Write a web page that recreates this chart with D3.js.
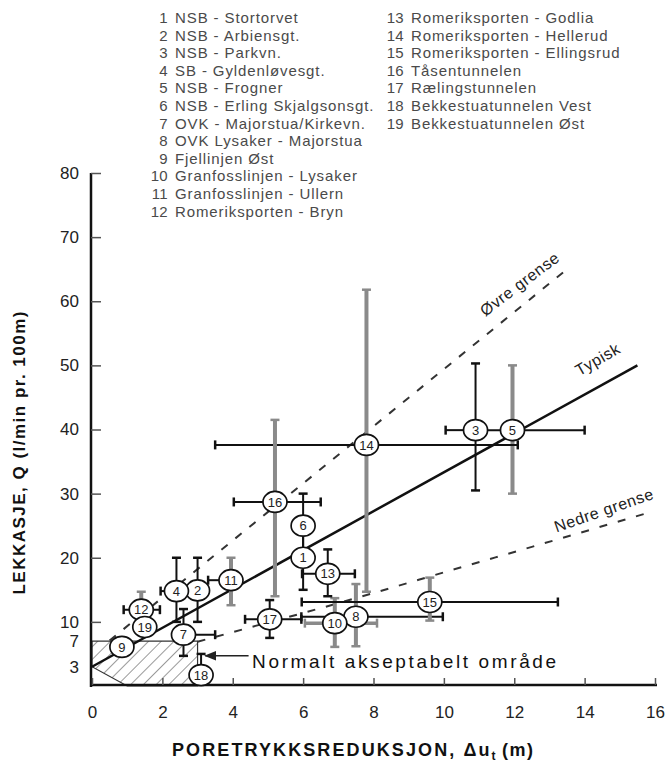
<!DOCTYPE html>
<html><head><meta charset="utf-8">
<script src="https://cdn.jsdelivr.net/npm/d3@7"></script>
<style>
body{margin:0;background:#fff;}
svg{display:block;font-family:"Liberation Sans",Arial,Helvetica,sans-serif;}
</style></head>
<body><svg id="c" width="670" height="773"></svg>
<script>
// ---------- data ----------
const legendIds = [1,2,3,4,5,6,7,8,9,10,11,12,13,14,15,16,17,18,19];
const legendNames = ["NSB - Stortorvet","NSB - Arbiensgt.","NSB - Parkvn.","SB - Gyldenløvesgt.","NSB - Frogner","NSB - Erling Skjalgsonsgt.","OVK - Majorstua/Kirkevn.","OVK Lysaker - Majorstua","Fjellinjen Øst","Granfosslinjen - Lysaker","Granfosslinjen - Ullern","Romeriksporten - Bryn","Romeriksporten - Godlia","Romeriksporten - Hellerud","Romeriksporten - Ellingsrud","Tåsentunnelen","Rælingstunnelen","Bekkestuatunnelen Vest","Bekkestuatunnelen Øst"];

const pointIds = [1,2,3,4,5,6,7,8,9,10,11,12,13,14,15,16,17,18,19];
const pointX   = [6.0,3.0,10.9,2.4,11.95,6.0,2.6,7.5,0.85,6.9,3.95,1.4,6.7,7.8,9.6,5.2,5.05,3.1,1.5];
const pointY   = [20,14.9,39.9,14.8,39.9,25,8,10.8,6.1,9.8,16.5,11.9,17.5,37.6,13.1,28.7,10.4,1.7,9.2];
// vertical range (low, high); null = none
const yLow     = [15,10,30.5,10,30,20,4.7,6.2,null,6.1,12.6,10,14,14.7,10.2,14,7.5,1.7,null];
const yHigh    = [25,20,50.3,20,50,30,12,15.9,null,13.7,20,14.7,21.3,61.8,16.9,41.5,13.4,5.0,null];
// horizontal range (low, high)
const xLow     = [null,null,10.05,1.95,10.9,null,2.6,5.95,null,6.05,3.3,0.9,5.97,3.5,5.96,4.03,4.35,null,null];
const xHigh    = [null,null,10.9,2.4,14.0,null,3.5,9.97,null,8.1,3.95,1.93,7.47,12.1,13.24,6.5,5.95,null,null];
const vGray    = [0,0,0,0,1,0,0,1,0,1,1,1,0,1,1,1,0,0,0];
const hGray    = [0,0,0,0,0,0,0,0,0,1,0,0,0,0,0,0,0,0,0];

const typicalX = [0, 15.5];
const typicalY = [3, 50];
const upperX   = [0.5, 13.5];
const upperY   = [7.1, 65];
const lowerX   = [3.0, 4.4, 6.6, 8.0, 10.3, 12.5, 15.8];
const lowerY   = [6.9, 9.0, 12.3, 14.5, 18.2, 21.7, 27.0];
const hatchX   = [0, 0, 3, 3, 1];
const hatchY   = [3, 7, 7, 0, 0];

const xTicks = [0,2,4,6,8,10,12,14,16];
const yTicks = [10,20,30,40,50,60,70,80];
const yExtraTicks = [3,7];

// ---------- drawing ----------
const svg = d3.select("#c");
const x = d3.scaleLinear().domain([0,16]).range([92,655]);
const y = d3.scaleLinear().domain([0,80]).range([686,173]);

const defs = svg.append("defs");
const pat = defs.append("pattern").attr("id","hatch").attr("patternUnits","userSpaceOnUse")
  .attr("width",9).attr("height",9).attr("patternTransform","rotate(45)");
pat.append("line").attr("x1",0).attr("y1",0).attr("x2",0).attr("y2",9).attr("stroke","#555").attr("stroke-width",1.2);
const mk = defs.append("marker").attr("id","arr").attr("viewBox","0 0 10 10").attr("refX",9).attr("refY",5)
  .attr("markerWidth",8).attr("markerHeight",8).attr("orient","auto-start-reverse");
mk.append("path").attr("d","M0,1 L10,5 L0,9 z").attr("fill","#222");

// legend
const lg = svg.append("g").attr("font-size",15).attr("fill","#4a4a4a").attr("letter-spacing","0.9px");
legendIds.forEach((id,i)=>{
  const col = i<12?0:1, row = i<12?i:i-12;
  const nx = col===0?168:404, tx = col===0?175:411;
  const yy = 23 + row*17.6;
  lg.append("text").attr("x",nx).attr("y",yy).attr("text-anchor","end").attr("letter-spacing","0.3px").text(id);
  lg.append("text").attr("x",tx).attr("y",yy).text(legendNames[i]);
});

// hatch area
const hatchPts = hatchX.map((d,i)=>[x(d),y(hatchY[i])]);
svg.append("path").attr("d",d3.line()(hatchPts)+"Z").attr("fill","url(#hatch)").attr("stroke","#333").attr("stroke-width",1.2);

// axes
const yAx = svg.append("g").attr("transform","translate(91,0)")
  .call(d3.axisLeft(y).tickValues(yTicks).tickSizeInner(-10).tickSizeOuter(0).tickPadding(12));
const yAx2 = svg.append("g").attr("transform","translate(91,0)")
  .call(d3.axisLeft(y).tickValues(yExtraTicks).tickSize(0).tickPadding(12));
yAx2.select(".domain").remove();
const xAx = svg.append("g").attr("transform","translate(0,685)")
  .call(d3.axisBottom(x).tickValues(xTicks).tickSizeInner(-7).tickSizeOuter(0).tickPadding(21));
[yAx,yAx2,xAx].forEach(g=>{
  g.selectAll("text").attr("font-size",17).attr("fill","#222").attr("font-family","Liberation Sans, Arial, sans-serif");
  g.selectAll(".tick line").attr("stroke","#555").attr("stroke-width",1.5);
});
yAx.select(".domain").attr("d",`M0,${y(80)}V${y(0)+1}`).attr("stroke","#111").attr("stroke-width",2.5);
xAx.select(".domain").attr("d",`M91,0H${x(16)+2}`).attr("stroke","#111").attr("stroke-width",2.5);

// bound lines
const line = d3.line();
svg.append("path").attr("d",line(upperX.map((d,i)=>[x(d),y(upperY[i])]))).attr("fill","none")
  .attr("stroke","#333").attr("stroke-width",2).attr("stroke-dasharray","8,10");
svg.append("path").attr("d",d3.line().curve(d3.curveMonotoneX)(lowerX.map((d,i)=>[x(d),y(lowerY[i])]))).attr("fill","none")
  .attr("stroke","#333").attr("stroke-width",2).attr("stroke-dasharray","8,11");
svg.append("path").attr("d",line(typicalX.map((d,i)=>[x(d),y(typicalY[i])]))).attr("fill","none")
  .attr("stroke","#111").attr("stroke-width",2.5);

// error bars
const eb = svg.append("g");
const cap = 4.5;
pointIds.forEach((id,i)=>{
  if(xLow[i]!==null){
    const c = hGray[i]?"#8a8a8a":"#111", w = hGray[i]?3.5:2;
    const yy = y(pointY[i]);
    eb.append("line").attr("x1",x(xLow[i])).attr("x2",x(xHigh[i])).attr("y1",yy).attr("y2",yy).attr("stroke",c).attr("stroke-width",w);
    [xLow[i],xHigh[i]].forEach(v=>eb.append("line").attr("x1",x(v)).attr("x2",x(v)).attr("y1",yy-cap).attr("y2",yy+cap).attr("stroke",c).attr("stroke-width",2.5));
  }
  if(yLow[i]!==null){
    const c = vGray[i]?"#8a8a8a":"#111", w = vGray[i]?4:2;
    const xx = x(pointX[i]);
    eb.append("line").attr("x1",xx).attr("x2",xx).attr("y1",y(yLow[i])).attr("y2",y(yHigh[i])).attr("stroke",c).attr("stroke-width",w);
    [yLow[i],yHigh[i]].forEach(v=>eb.append("line").attr("x1",xx-cap).attr("x2",xx+cap).attr("y1",y(v)).attr("y2",y(v)).attr("stroke",c).attr("stroke-width",2.5));
  }
});

// markers
const mg = svg.append("g");
pointIds.forEach((id,i)=>{
  const cx = x(pointX[i]), cy = y(pointY[i]);
  mg.append("ellipse").attr("cx",cx).attr("cy",cy).attr("rx",12).attr("ry",10.5)
    .attr("fill","#fff").attr("stroke","#111").attr("stroke-width",1.7);
  mg.append("text").attr("x",cx).attr("y",cy).attr("dy","0.36em").attr("text-anchor","middle")
    .attr("font-size",13).attr("fill","#222").text(id);
});

// line labels
function rotLabel(txt, dx, dy, ang, fs){
  svg.append("text").attr("transform",`translate(${x(dx)},${y(dy)}) rotate(${ang})`)
    .attr("text-anchor","middle").attr("font-size",fs).attr("fill","#222").attr("letter-spacing","0.6px").text(txt);
}
rotLabel("Øvre grense", 12.25, 62.0, -37, 16);
rotLabel("Typisk", 14.45, 50.2, -30, 16);
rotLabel("Nedre grense", 14.6, 26.6, -19, 16);

// acceptable area annotation
svg.append("line").attr("x1",x(4.45)).attr("y1",y(4.7)).attr("x2",x(3.22)).attr("y2",y(4.7))
  .attr("stroke","#222").attr("stroke-width",1.5).attr("marker-end","url(#arr)");
svg.append("text").attr("x",x(4.55)).attr("y",y(3.9)).attr("dy","0.36em").attr("font-size",19)
  .attr("fill","#111").attr("textLength",304).attr("lengthAdjust","spacing").text("Normalt akseptabelt område");

// axis titles
svg.append("text").attr("transform","translate(25,453) rotate(-90)").attr("text-anchor","middle")
  .attr("font-size",17).attr("font-weight","bold").attr("fill","#111")
  .attr("textLength",283).attr("lengthAdjust","spacing").text("LEKKASJE, Q (l/min pr. 100m)");
const xt = svg.append("text").attr("x",172).attr("y",756).attr("font-size",18).attr("font-weight","bold").attr("fill","#111");
xt.append("tspan").attr("letter-spacing","2.1px").text("PORETRYKKSREDUKSJON, Δu");
xt.append("tspan").attr("font-size",12).attr("dy",4).text("t");
xt.append("tspan").attr("dy",-4).attr("letter-spacing","1.5px").text(" (m)");
</script></body></html>
